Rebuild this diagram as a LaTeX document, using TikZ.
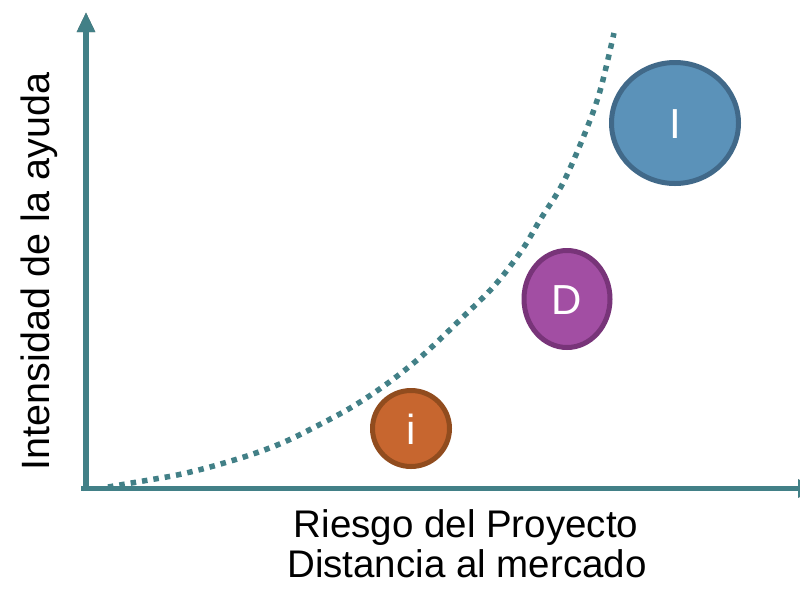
\documentclass[tikz,border=0pt]{standalone}
\usepackage{fontspec}
\setmainfont{Liberation Sans}
\usetikzlibrary{arrows.meta}
\definecolor{axisteal}{RGB}{66,128,135}
\definecolor{shadowgray}{RGB}{105,105,105}
\definecolor{bigfill}{RGB}{91,146,185}
\definecolor{bigdraw}{RGB}{65,105,137}
\definecolor{midfill}{RGB}{162,78,163}
\definecolor{middraw}{RGB}{120,52,121}
\definecolor{smallfill}{RGB}{199,102,47}
\definecolor{smalldraw}{RGB}{145,76,30}
\tikzset{
  axisline/.style={line width=5.5pt,-{Triangle[width=17pt,length=20pt]}},
  trend/.style={axisteal,line width=5.5pt,dash pattern=on 5.5pt off 6pt},
  bubble/.style={line width=5pt},
  letter/.style={text=white,font=\fontsize{42}{48}\selectfont,anchor=base,inner sep=0pt},
  label/.style={text=black,font=\fontsize{38.5}{44}\selectfont,anchor=base,inner sep=0pt}
}
\begin{document}
\begin{tikzpicture}[x=1pt,y=-1pt]
\useasboundingbox (0,0) rectangle (800,590);
\clip (0,0) rectangle (800,590);
% axis coordinates
\coordinate (ybot) at (86,491);
\coordinate (ytip) at (86,12);
\coordinate (xstart) at (81,488.5);
\coordinate (xtip) at (818,488.5);
% shadows
\begin{scope}[shift={(0,4)}]
\draw[axisline,shadowgray] (xstart) -- (xtip);
\draw[axisline,shadowgray] (ybot) -- (ytip);
\end{scope}
% axes
\draw[axisline,axisteal] (xstart) -- (xtip);
\draw[axisline,axisteal] (ybot) -- (ytip);
% trend curve
\draw[trend] plot[smooth,tension=0.55] coordinates {(108,487) (143,481) (177,475) (210,467) (250,455) (282,443) (313,428) (352,407) (388,383) (423,355) (463,317) (495,285) (522,250) (540,220) (563,183) (585,133) (600,91) (614,33)};
% bubbles
\draw[bubble,draw=smalldraw,fill=smallfill] (411,428.5) ellipse [x radius=38.5,y radius=38];
\draw[bubble,draw=middraw,fill=midfill] (567,299) ellipse [x radius=43,y radius=48.5];
\draw[bubble,draw=bigdraw,fill=bigfill] (675,123) ellipse [x radius=63.5,y radius=60.5];
\node[letter] (li) at (411,444) {i};
\node[letter] (ld) at (567,314) {D};
\node[letter] (lI) at (675,138) {I};
% labels
\node[label] (xl1) at (466,537) {Riesgo del Proyecto};
\node[label] (xl2) at (467,577) {Distancia al mercado};
\node[label,font=\fontsize{39.5}{44}\selectfont,rotate=90] (yl) at (49,271.5) {Intensidad de la ayuda};
\end{tikzpicture}
\end{document}
